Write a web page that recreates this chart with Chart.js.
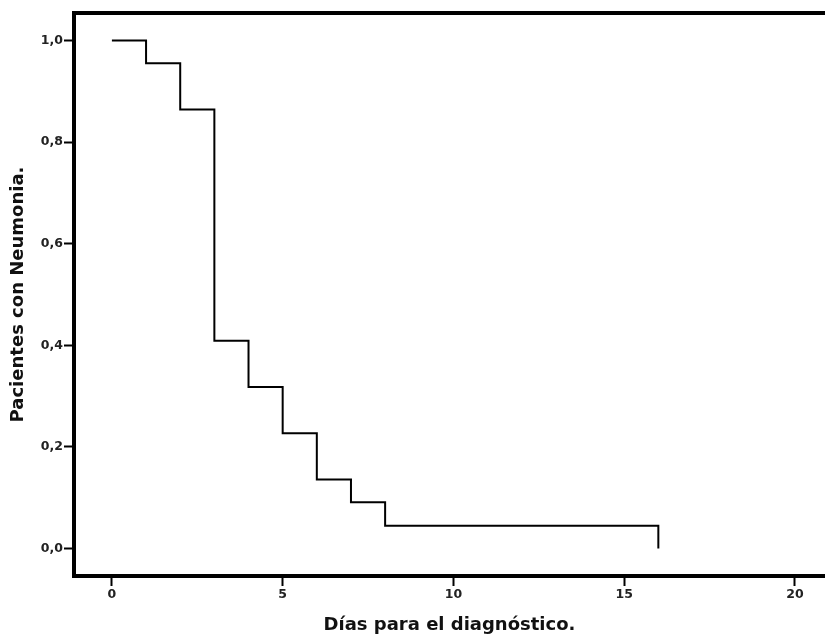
<!DOCTYPE html>
<html>
<head>
<meta charset="utf-8">
<script src="https://cdn.jsdelivr.net/npm/chart.js@4/dist/chart.umd.min.js"></script>
<style>
  body { margin: 0; background: #fff; }
  #km-chart { display: block; }
</style>
</head>
<body>
<canvas id="km-chart" width="825" height="639"></canvas>
<script>
// survival curve (Kaplan-Meier), days vs proportion
const days = [0, 1, 2, 3, 4, 5, 6, 7, 8, 16];
const survival = [1.0, 0.955, 0.864, 0.409, 0.318, 0.227, 0.136, 0.091, 0.045, 0.0];
const xTicks = [0, 5, 10, 15, 20];
const yTicks = [0, 0.2, 0.4, 0.6, 0.8, 1.0];

const fontFamily = "'DejaVu Sans', sans-serif";

// thick frame on top (axes borders handle left and bottom)
const topFrame = {
  id: "topFrame",
  afterDraw(chart) {
    const { ctx, chartArea } = chart;
    ctx.save();
    ctx.strokeStyle = "#000";
    ctx.lineWidth = 4;
    ctx.beginPath();
    ctx.moveTo(chartArea.left - 2, chartArea.top);
    ctx.lineTo(chart.width, chartArea.top);
    ctx.stroke();
    ctx.restore();
  }
};

const ctx = document.getElementById("km-chart");
new Chart(ctx, {
  type: "line",
  data: {
    datasets: [
      {
        data: days.map((d, i) => ({ x: d, y: survival[i] })),
        borderColor: "#000",
        borderWidth: 2,
        stepped: "before",
        pointRadius: 0,
        fill: false
      }
    ]
  },
  options: {
    responsive: false,
    animation: false,
    layout: { padding: { top: 13, right: 0, left: 0, bottom: 0 } },
    plugins: {
      legend: { display: false },
      tooltip: { enabled: false }
    },
    scales: {
      x: {
        type: "linear",
        min: -1.11,
        max: 20.88,
        afterBuildTicks: (scale) => {
          scale.ticks = xTicks.map(v => ({ value: v }));
        },
        afterFit: (scale) => { scale.height = 63; },
        grid: {
          drawOnChartArea: false,
          tickLength: 10,
          tickColor: "#000",
          tickWidth: 2
        },
        border: { color: "#000", width: 4 },
        ticks: {
          color: "#222",
          padding: 1,
          maxRotation: 0,
          font: { family: fontFamily, size: 12.5, weight: "bold" }
        },
        title: {
          display: true,
          text: "Días para el diagnóstico.",
          color: "#111",
          padding: { top: 0, bottom: 3 },
          font: { family: fontFamily, size: 18, weight: "bold" }
        }
      },
      y: {
        min: -0.054,
        max: 1.054,
        afterBuildTicks: (scale) => {
          scale.ticks = yTicks.map(v => ({ value: v }));
        },
        afterFit: (scale) => { scale.width = 74; },
        grid: {
          drawOnChartArea: false,
          tickLength: 10,
          tickColor: "#000",
          tickWidth: 2
        },
        border: { color: "#000", width: 4 },
        ticks: {
          color: "#222",
          padding: 1,
          font: { family: fontFamily, size: 12.5, weight: "bold" },
          callback: (v) => v.toFixed(1).replace(".", ",")
        },
        title: {
          display: true,
          text: "Pacientes con Neumonia.",
          color: "#111",
          padding: { top: 8, bottom: 0 },
          font: { family: fontFamily, size: 18, weight: "bold" }
        }
      }
    }
  },
  plugins: [topFrame]
});
</script>
</body>
</html>
